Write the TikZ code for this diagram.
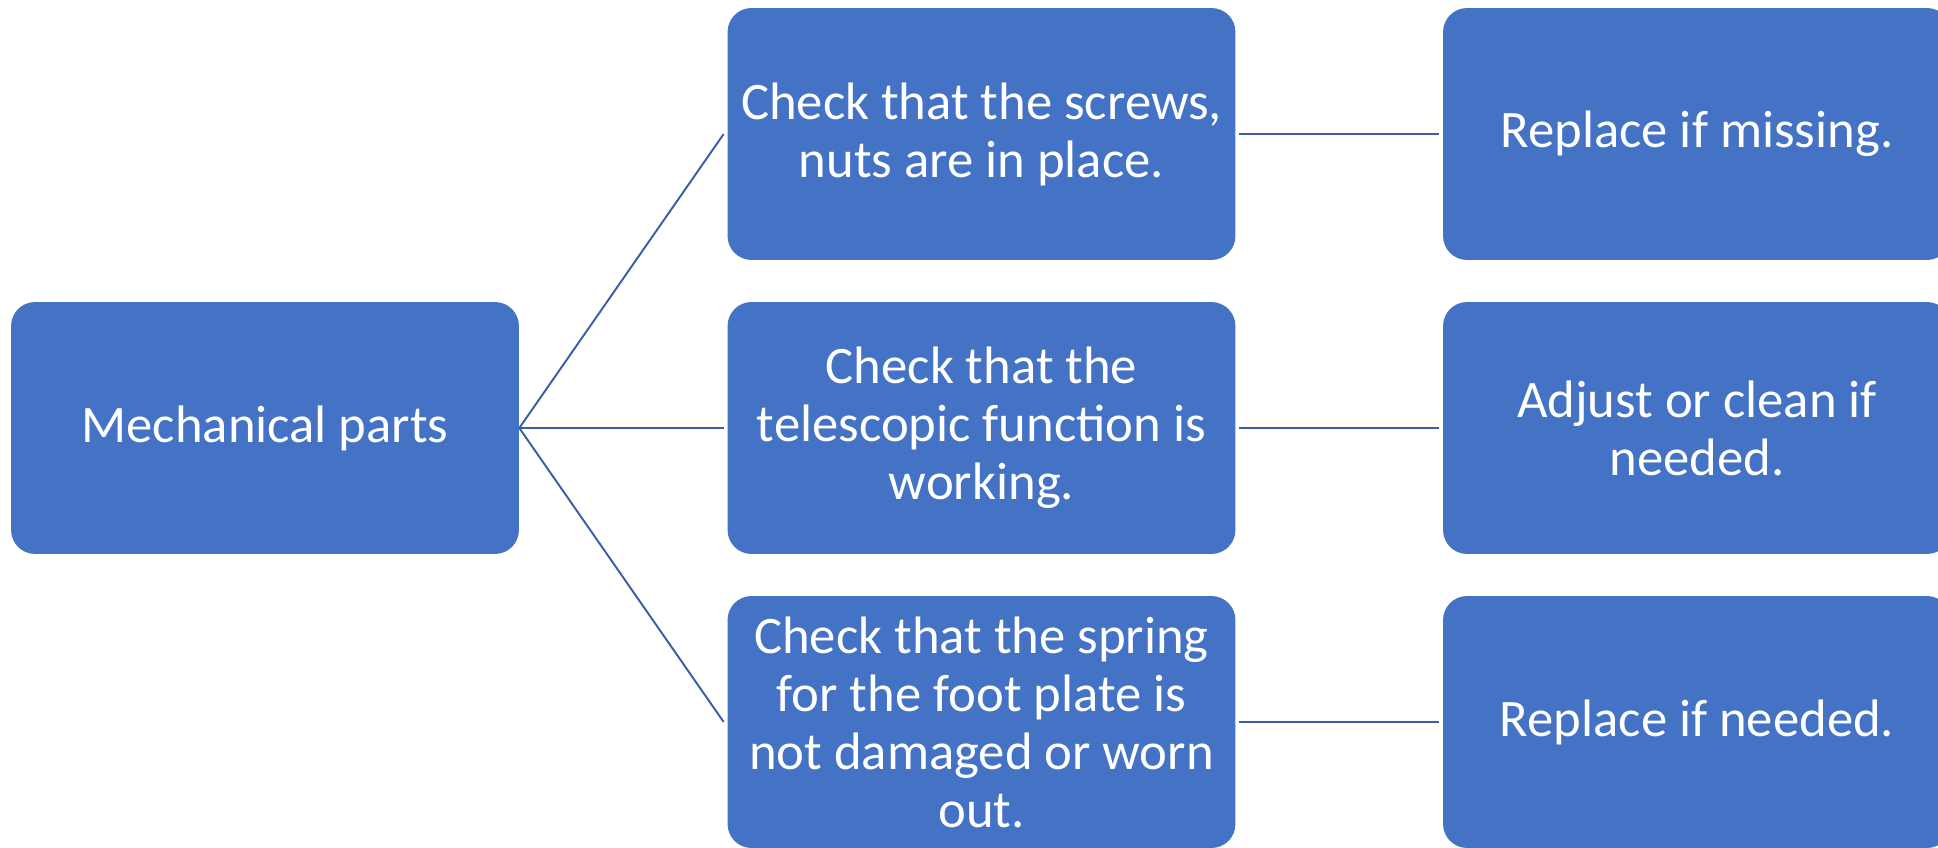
\documentclass[tikz,border=0pt]{standalone}
\usepackage{fontspec}
\setmainfont{Carlito}
\usetikzlibrary{positioning}
\definecolor{boxblue}{HTML}{4472C4}
\definecolor{lineblue}{HTML}{3A5DA6}

\begin{document}
\begin{tikzpicture}[x=0.02cm,y=-0.02cm,
  box/.style={fill=boxblue,draw=none,rounded corners=0.48cm,minimum width=10.16cm,minimum height=5.04cm,inner sep=0pt,text=white,align=center,font=\fontsize{30}{33}\selectfont},
  link/.style={draw=lineblue,line width=1.1pt}]
\clip (0,0) rectangle (1938,848);
\node(MP) [box] at (265,428) {Mechanical parts};

\node(C1) [box] at (981.5,134) {Check that the screws,\\nuts are in place.};
\node(C2) [box] at (981.5,428) {Check that the\\telescopic function is\\working.};
\node(C3) [box] at (981.5,722) {Check that the spring\\for the foot plate is\\not damaged or worn\\out.};

\node(A1) [box] at (1697,134) {Replace if missing.};
\node(A2) [box] at (1697,428) {Adjust or clean if\\needed.};
\node(A3) [box] at (1697,722) {Replace if needed.};

\draw[link] (MP.east) -- ([xshift=-2]C1.west);
\draw[link] (MP.east) -- ([xshift=-2]C2.west);
\draw[link] (MP.east) -- ([xshift=-2]C3.west);
\draw[link] ([xshift=2]C1.east) -- ([xshift=-2]A1.west);
\draw[link] ([xshift=2]C2.east) -- ([xshift=-2]A2.west);
\draw[link] ([xshift=2]C3.east) -- ([xshift=-2]A3.west);
\end{tikzpicture}
\end{document}
